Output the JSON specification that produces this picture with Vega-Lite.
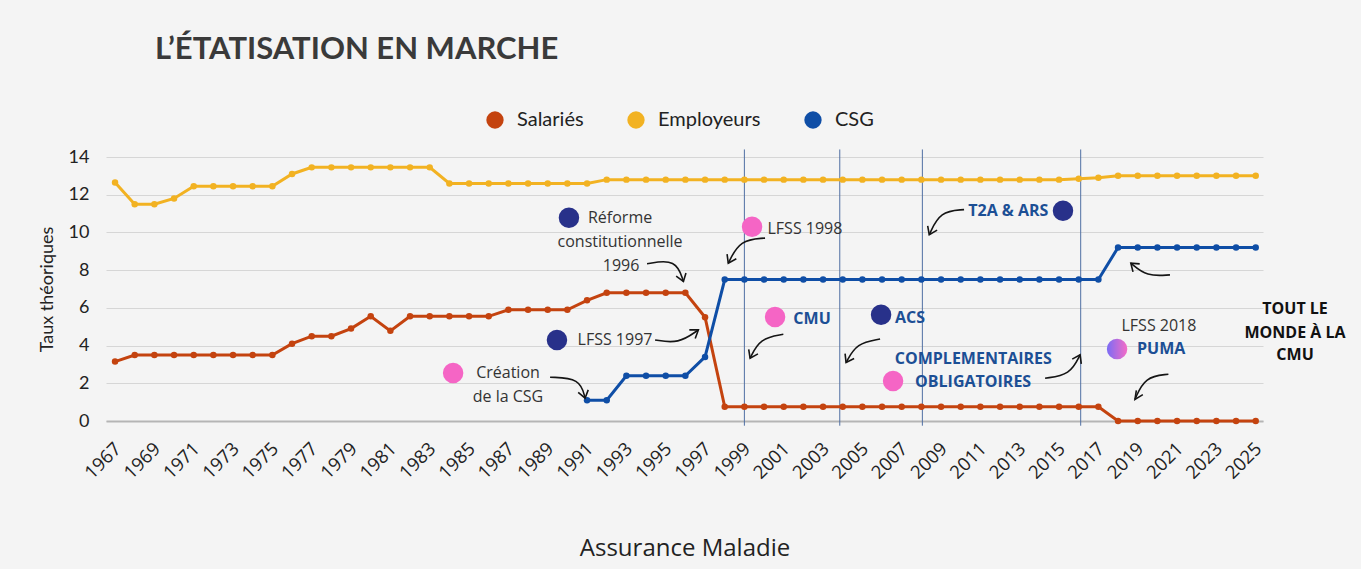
{
  "$schema": "https://vega.github.io/schema/vega-lite/v6.json",
  "width": 1157,
  "height": 264,
  "autosize": {"type": "none"},
  "padding": {"left": 106, "top": 157, "right": 98, "bottom": 148},
  "background": "#f4f4f4",
  "title": {"text": "L’ÉTATISATION EN MARCHE", "anchor": "start", "frame": "group", "dx": 49, "offset": 44, "font": "Lato", "fontSize": 31, "fontWeight": "bold", "color": "#3a3a3a"},
  "config": {
    "view": {"stroke": null},
    "font": "Open Sans",
    "axisX": {
      "labelAngle": -45,
      "labelFont": "Open Sans",
      "labelFontSize": 18.5,
      "labelColor": "#222222",
      "labelPadding": 18,
      "labelOffset": -4,
      "labelOverlap": false,
      "ticks": false,
      "grid": false,
      "domainColor": "#b5b5b5",
      "domainWidth": 2,
      "titleFont": "Open Sans",
      "titleFontSize": 24,
      "titleFontWeight": "normal",
      "titleColor": "#222222",
      "titlePadding": 54,
      "tickCount": 100
    },
    "axisY": {
      "labelFont": "Lato",
      "labelFontSize": 18,
      "labelColor": "#222222",
      "labelPadding": 17,
      "labelOverlap": false,
      "ticks": false,
      "domain": false,
      "grid": true,
      "gridColor": "#d6d6d6",
      "gridWidth": 1,
      "titleFont": "Lato",
      "titleFontSize": 18,
      "titleFontWeight": "normal",
      "titleColor": "#222222",
      "titlePadding": 12,
      "tickCount": 100
    }
  },
  "datasets": {
    "series": [
      {"annee": 1967, "Salariés": 3.15, "Employeurs": 12.65},
      {"annee": 1968, "Salariés": 3.5, "Employeurs": 11.5},
      {"annee": 1969, "Salariés": 3.5, "Employeurs": 11.5},
      {"annee": 1970, "Salariés": 3.5, "Employeurs": 11.8},
      {"annee": 1971, "Salariés": 3.5, "Employeurs": 12.45},
      {"annee": 1972, "Salariés": 3.5, "Employeurs": 12.45},
      {"annee": 1973, "Salariés": 3.5, "Employeurs": 12.45},
      {"annee": 1974, "Salariés": 3.5, "Employeurs": 12.45},
      {"annee": 1975, "Salariés": 3.5, "Employeurs": 12.45},
      {"annee": 1976, "Salariés": 4.1, "Employeurs": 13.1},
      {"annee": 1977, "Salariés": 4.5, "Employeurs": 13.45},
      {"annee": 1978, "Salariés": 4.5, "Employeurs": 13.45},
      {"annee": 1979, "Salariés": 4.9, "Employeurs": 13.45},
      {"annee": 1980, "Salariés": 5.55, "Employeurs": 13.45},
      {"annee": 1981, "Salariés": 4.78, "Employeurs": 13.45},
      {"annee": 1982, "Salariés": 5.55, "Employeurs": 13.45},
      {"annee": 1983, "Salariés": 5.55, "Employeurs": 13.45},
      {"annee": 1984, "Salariés": 5.55, "Employeurs": 12.6},
      {"annee": 1985, "Salariés": 5.55, "Employeurs": 12.6},
      {"annee": 1986, "Salariés": 5.55, "Employeurs": 12.6},
      {"annee": 1987, "Salariés": 5.9, "Employeurs": 12.6},
      {"annee": 1988, "Salariés": 5.9, "Employeurs": 12.6},
      {"annee": 1989, "Salariés": 5.9, "Employeurs": 12.6},
      {"annee": 1990, "Salariés": 5.9, "Employeurs": 12.6},
      {"annee": 1991, "Salariés": 6.4, "Employeurs": 12.6, "CSG": 1.1},
      {"annee": 1992, "Salariés": 6.8, "Employeurs": 12.8, "CSG": 1.1},
      {"annee": 1993, "Salariés": 6.8, "Employeurs": 12.8, "CSG": 2.4},
      {"annee": 1994, "Salariés": 6.8, "Employeurs": 12.8, "CSG": 2.4},
      {"annee": 1995, "Salariés": 6.8, "Employeurs": 12.8, "CSG": 2.4},
      {"annee": 1996, "Salariés": 6.8, "Employeurs": 12.8, "CSG": 2.4},
      {"annee": 1997, "Salariés": 5.5, "Employeurs": 12.8, "CSG": 3.4},
      {"annee": 1998, "Salariés": 0.75, "Employeurs": 12.8, "CSG": 7.5},
      {"annee": 1999, "Salariés": 0.75, "Employeurs": 12.8, "CSG": 7.5},
      {"annee": 2000, "Salariés": 0.75, "Employeurs": 12.8, "CSG": 7.5},
      {"annee": 2001, "Salariés": 0.75, "Employeurs": 12.8, "CSG": 7.5},
      {"annee": 2002, "Salariés": 0.75, "Employeurs": 12.8, "CSG": 7.5},
      {"annee": 2003, "Salariés": 0.75, "Employeurs": 12.8, "CSG": 7.5},
      {"annee": 2004, "Salariés": 0.75, "Employeurs": 12.8, "CSG": 7.5},
      {"annee": 2005, "Salariés": 0.75, "Employeurs": 12.8, "CSG": 7.5},
      {"annee": 2006, "Salariés": 0.75, "Employeurs": 12.8, "CSG": 7.5},
      {"annee": 2007, "Salariés": 0.75, "Employeurs": 12.8, "CSG": 7.5},
      {"annee": 2008, "Salariés": 0.75, "Employeurs": 12.8, "CSG": 7.5},
      {"annee": 2009, "Salariés": 0.75, "Employeurs": 12.8, "CSG": 7.5},
      {"annee": 2010, "Salariés": 0.75, "Employeurs": 12.8, "CSG": 7.5},
      {"annee": 2011, "Salariés": 0.75, "Employeurs": 12.8, "CSG": 7.5},
      {"annee": 2012, "Salariés": 0.75, "Employeurs": 12.8, "CSG": 7.5},
      {"annee": 2013, "Salariés": 0.75, "Employeurs": 12.8, "CSG": 7.5},
      {"annee": 2014, "Salariés": 0.75, "Employeurs": 12.8, "CSG": 7.5},
      {"annee": 2015, "Salariés": 0.75, "Employeurs": 12.8, "CSG": 7.5},
      {"annee": 2016, "Salariés": 0.75, "Employeurs": 12.85, "CSG": 7.5},
      {"annee": 2017, "Salariés": 0.75, "Employeurs": 12.9, "CSG": 7.5},
      {"annee": 2018, "Salariés": 0, "Employeurs": 13.0, "CSG": 9.2},
      {"annee": 2019, "Salariés": 0, "Employeurs": 13.0, "CSG": 9.2},
      {"annee": 2020, "Salariés": 0, "Employeurs": 13.0, "CSG": 9.2},
      {"annee": 2021, "Salariés": 0, "Employeurs": 13.0, "CSG": 9.2},
      {"annee": 2022, "Salariés": 0, "Employeurs": 13.0, "CSG": 9.2},
      {"annee": 2023, "Salariés": 0, "Employeurs": 13.0, "CSG": 9.2},
      {"annee": 2024, "Salariés": 0, "Employeurs": 13.0, "CSG": 9.2},
      {"annee": 2025, "Salariés": 0, "Employeurs": 13.0, "CSG": 9.2}
    ],
    "reperes": [
      {"annee": 1999, "valeur": -0.25, "valeur2": 14.4},
      {"annee": 2003.85, "valeur": -0.25, "valeur2": 14.4},
      {"annee": 2008.05, "valeur": -0.25, "valeur2": 14.4},
      {"annee": 2016.1, "valeur": -0.25, "valeur2": 14.4}
    ],
    "courbes": [
      {"fleche": "a1", "ordre": 0, "annee": 1994.05, "valeur": 8.34},
      {"fleche": "a1", "ordre": 1, "annee": 1995.53, "valeur": 8.6},
      {"fleche": "a1", "ordre": 2, "annee": 1995.9, "valeur": 7.4},
      {"fleche": "a2", "ordre": 0, "annee": 1994.46, "valeur": 4.3},
      {"fleche": "a2", "ordre": 1, "annee": 1995.64, "valeur": 4.09},
      {"fleche": "a2", "ordre": 2, "annee": 1996.66, "valeur": 4.83},
      {"fleche": "a3", "ordre": 0, "annee": 1989.12, "valeur": 2.32},
      {"fleche": "a3", "ordre": 1, "annee": 1990.64, "valeur": 2.27},
      {"fleche": "a3", "ordre": 2, "annee": 1990.9, "valeur": 1.21},
      {"fleche": "a4", "ordre": 0, "annee": 2000.05, "valeur": 9.7},
      {"fleche": "a4", "ordre": 1, "annee": 1998.78, "valeur": 9.61},
      {"fleche": "a4", "ordre": 2, "annee": 1998.18, "valeur": 8.37},
      {"fleche": "a5", "ordre": 0, "annee": 2000.98, "valeur": 4.6},
      {"fleche": "a5", "ordre": 1, "annee": 1999.8, "valeur": 4.39},
      {"fleche": "a5", "ordre": 2, "annee": 1999.29, "valeur": 3.33},
      {"fleche": "a6", "ordre": 0, "annee": 2005.9, "valeur": 4.35},
      {"fleche": "a6", "ordre": 1, "annee": 2004.71, "valeur": 4.13},
      {"fleche": "a6", "ordre": 2, "annee": 2004.17, "valeur": 3.1},
      {"fleche": "a7", "ordre": 0, "annee": 2010.17, "valeur": 11.21},
      {"fleche": "a7", "ordre": 1, "annee": 2008.95, "valeur": 11.12},
      {"fleche": "a7", "ordre": 2, "annee": 2008.4, "valeur": 9.88},
      {"fleche": "a8", "ordre": 0, "annee": 2014.29, "valeur": 2.27},
      {"fleche": "a8", "ordre": 1, "annee": 2015.56, "valeur": 2.44},
      {"fleche": "a8", "ordre": 2, "annee": 2016.07, "valeur": 3.51},
      {"fleche": "a9", "ordre": 0, "annee": 2020.64, "valeur": 7.75},
      {"fleche": "a9", "ordre": 1, "annee": 2019.46, "valeur": 7.66},
      {"fleche": "a9", "ordre": 2, "annee": 2018.65, "valeur": 8.37},
      {"fleche": "a10", "ordre": 0, "annee": 2020.56, "valeur": 2.48},
      {"fleche": "a10", "ordre": 1, "annee": 2019.37, "valeur": 2.35},
      {"fleche": "a10", "ordre": 2, "annee": 2018.86, "valeur": 1.15}
    ],
    "pointes": [
      {"fleche": "a1", "ordre": 0, "annee": 1996.03, "valeur": 7.85},
      {"fleche": "a1", "ordre": 1, "annee": 1995.9, "valeur": 7.4},
      {"fleche": "a1", "ordre": 2, "annee": 1995.53, "valeur": 7.68},
      {"fleche": "a2", "ordre": 0, "annee": 1996.2, "valeur": 4.83},
      {"fleche": "a2", "ordre": 1, "annee": 1996.66, "valeur": 4.83},
      {"fleche": "a2", "ordre": 2, "annee": 1996.5, "valeur": 4.38},
      {"fleche": "a3", "ordre": 0, "annee": 1991.06, "valeur": 1.65},
      {"fleche": "a3", "ordre": 1, "annee": 1990.9, "valeur": 1.21},
      {"fleche": "a3", "ordre": 2, "annee": 1990.55, "valeur": 1.52},
      {"fleche": "a4", "ordre": 0, "annee": 1998.59, "valeur": 8.6},
      {"fleche": "a4", "ordre": 1, "annee": 1998.18, "valeur": 8.37},
      {"fleche": "a4", "ordre": 2, "annee": 1998.12, "valeur": 8.85},
      {"fleche": "a5", "ordre": 0, "annee": 1999.69, "valeur": 3.56},
      {"fleche": "a5", "ordre": 1, "annee": 1999.29, "valeur": 3.33},
      {"fleche": "a5", "ordre": 2, "annee": 1999.22, "valeur": 3.8},
      {"fleche": "a6", "ordre": 0, "annee": 2004.58, "valeur": 3.31},
      {"fleche": "a6", "ordre": 1, "annee": 2004.17, "valeur": 3.1},
      {"fleche": "a6", "ordre": 2, "annee": 2004.12, "valeur": 3.57},
      {"fleche": "a7", "ordre": 0, "annee": 2008.8, "valeur": 10.12},
      {"fleche": "a7", "ordre": 1, "annee": 2008.4, "valeur": 9.88},
      {"fleche": "a7", "ordre": 2, "annee": 2008.32, "valeur": 10.35},
      {"fleche": "a8", "ordre": 0, "annee": 2015.67, "valeur": 3.28},
      {"fleche": "a8", "ordre": 1, "annee": 2016.07, "valeur": 3.51},
      {"fleche": "a8", "ordre": 2, "annee": 2016.13, "valeur": 3.03},
      {"fleche": "a9", "ordre": 0, "annee": 2018.76, "valeur": 7.91},
      {"fleche": "a9", "ordre": 1, "annee": 2018.65, "valeur": 8.37},
      {"fleche": "a9", "ordre": 2, "annee": 2019.1, "valeur": 8.33},
      {"fleche": "a10", "ordre": 0, "annee": 2019.26, "valeur": 1.4},
      {"fleche": "a10", "ordre": 1, "annee": 2018.86, "valeur": 1.15},
      {"fleche": "a10", "ordre": 2, "annee": 2018.93, "valeur": 1.62}
    ],
    "pastillesBleues": [
      {"annee": 1990.08, "valeur": 10.78},
      {"annee": 1989.47, "valeur": 4.3},
      {"annee": 2005.95, "valeur": 5.63},
      {"annee": 2015.2, "valeur": 11.15}
    ],
    "pastillesRoses": [
      {"annee": 1984.19, "valeur": 2.55},
      {"annee": 1999.39, "valeur": 10.3},
      {"annee": 2000.56, "valeur": 5.52},
      {"annee": 2006.56, "valeur": 2.12}
    ],
    "pastilleDegrade": [
      {"annee": 2017.95, "valeur": 3.82}
    ],
    "textesSimples": [
      {"annee": 1992.68, "valeur": 10.78, "texte": "Réforme"},
      {"annee": 1992.68, "valeur": 9.51, "texte": "constitutionnelle"},
      {"annee": 1992.73, "valeur": 8.23, "texte": "1996"},
      {"annee": 1992.42, "valeur": 4.3, "texte": "LFSS 1997"},
      {"annee": 1986.98, "valeur": 2.55, "texte": "Création"},
      {"annee": 1986.98, "valeur": 1.27, "texte": "de la CSG"},
      {"annee": 2002.08, "valeur": 10.2, "texte": "LFSS 1998"},
      {"annee": 2020.08, "valeur": 5.05, "texte": "LFSS 2018"}
    ],
    "textesBleus": [
      {"annee": 2002.44, "valeur": 5.42, "texte": "CMU"},
      {"annee": 2007.42, "valeur": 5.47, "texte": "ACS"},
      {"annee": 2010.64, "valeur": 3.29, "texte": "COMPLEMENTAIRES"},
      {"annee": 2010.63, "valeur": 2.07, "texte": "OBLIGATOIRES"},
      {"annee": 2012.42, "valeur": 11.15, "texte": "T2A & ARS"},
      {"annee": 2020.19, "valeur": 3.82, "texte": "PUMA"}
    ],
    "textesNoirs": [
      {"annee": 2027.0, "valeur": 5.95, "texte": "TOUT LE"},
      {"annee": 2027.0, "valeur": 4.67, "texte": "MONDE À LA"},
      {"annee": 2027.0, "valeur": 3.5, "texte": "CMU"}
    ]
  },
  "layer": [
    {
      "data": {"name": "reperes"},
      "mark": {"type": "rule", "color": "#4f6fa3", "strokeWidth": 1},
      "encoding": {
        "x": {
          "field": "annee", "type": "quantitative",
          "scale": {"domain": [1966.54, 2025.37], "nice": false, "zero": false},
          "axis": {
            "title": "Assurance Maladie",
            "values": [1967, 1969, 1971, 1973, 1975, 1977, 1979, 1981, 1983, 1985, 1987, 1989, 1991, 1993, 1995, 1997, 1999, 2001, 2003, 2005, 2007, 2009, 2011, 2013, 2015, 2017, 2019, 2021, 2023, 2025],
            "format": "d",
            "tickCount": 100,
            "labelOverlap": false
          }
        },
        "y": {
          "field": "valeur", "type": "quantitative",
          "scale": {"domain": [0, 14], "nice": false},
          "axis": {
            "title": "Taux théoriques",
            "values": [0, 2, 4, 6, 8, 10, 12, 14],
            "format": "d",
            "tickCount": 100,
            "labelOverlap": false
          }
        },
        "y2": {"field": "valeur2"}
      }
    },
    {
      "data": {"name": "series"},
      "transform": [
        {"fold": ["Salariés", "Employeurs", "CSG"], "as": ["serie", "valeur"]},
        {"filter": "isValid(datum.valeur)"}
      ],
      "encoding": {
        "x": {"field": "annee", "type": "quantitative"},
        "y": {"field": "valeur", "type": "quantitative"},
        "color": {
          "field": "serie", "type": "nominal",
          "scale": {"domain": ["Salariés", "Employeurs", "CSG"], "range": ["#c4430f", "#f2b222", "#0f4ea6"]},
          "legend": {
            "orient": "none", "legendX": 379, "legendY": -47, "direction": "horizontal",
            "title": null, "symbolType": "circle", "symbolSize": 300, "symbolStrokeWidth": 0,
            "labelFont": "Lato", "labelFontSize": 20, "labelColor": "#222222",
            "columnPadding": 42, "labelOffset": 12
          }
        }
      },
      "layer": [
        {"mark": {"type": "line", "strokeWidth": 3}},
        {"mark": {"type": "point", "filled": true, "size": 42, "opacity": 1}}
      ]
    },
    {
      "data": {"name": "courbes"},
      "mark": {"type": "line", "interpolate": "basis", "color": "#151515", "strokeWidth": 1.6},
      "encoding": {
        "x": {"field": "annee", "type": "quantitative"},
        "y": {"field": "valeur", "type": "quantitative"},
        "detail": {"field": "fleche"},
        "order": {"field": "ordre"}
      }
    },
    {
      "data": {"name": "pointes"},
      "mark": {"type": "line", "color": "#151515", "strokeWidth": 1.6},
      "encoding": {
        "x": {"field": "annee", "type": "quantitative"},
        "y": {"field": "valeur", "type": "quantitative"},
        "detail": {"field": "fleche"},
        "order": {"field": "ordre"}
      }
    },
    {
      "data": {"name": "pastillesBleues"},
      "mark": {"type": "point", "filled": true, "size": 420, "color": "#28318a", "opacity": 1},
      "encoding": {
        "x": {"field": "annee", "type": "quantitative"},
        "y": {"field": "valeur", "type": "quantitative"}
      }
    },
    {
      "data": {"name": "pastillesRoses"},
      "mark": {"type": "point", "filled": true, "size": 420, "color": "#f565c5", "opacity": 1},
      "encoding": {
        "x": {"field": "annee", "type": "quantitative"},
        "y": {"field": "valeur", "type": "quantitative"}
      }
    },
    {
      "data": {"name": "pastilleDegrade"},
      "mark": {"type": "point", "filled": true, "size": 420, "opacity": 1,
        "color": {"gradient": "linear", "x1": 0, "y1": 0, "x2": 1, "y2": 0, "stops": [{"offset": 0, "color": "#7a6cf5"}, {"offset": 1, "color": "#f56cc6"}]}},
      "encoding": {
        "x": {"field": "annee", "type": "quantitative"},
        "y": {"field": "valeur", "type": "quantitative"}
      }
    },
    {
      "data": {"name": "textesSimples"},
      "mark": {"type": "text", "font": "Open Sans", "fontSize": 16, "color": "#333333", "align": "center", "baseline": "middle"},
      "encoding": {
        "x": {"field": "annee", "type": "quantitative"},
        "y": {"field": "valeur", "type": "quantitative"},
        "text": {"field": "texte"}
      }
    },
    {
      "data": {"name": "textesBleus"},
      "mark": {"type": "text", "font": "Open Sans", "fontSize": 16, "fontWeight": "bold", "color": "#1c4f95", "align": "center", "baseline": "middle"},
      "encoding": {
        "x": {"field": "annee", "type": "quantitative"},
        "y": {"field": "valeur", "type": "quantitative"},
        "text": {"field": "texte"}
      }
    },
    {
      "data": {"name": "textesNoirs"},
      "mark": {"type": "text", "font": "Open Sans", "fontSize": 16, "fontWeight": "bold", "color": "#111111", "align": "center", "baseline": "middle"},
      "encoding": {
        "x": {"field": "annee", "type": "quantitative"},
        "y": {"field": "valeur", "type": "quantitative"},
        "text": {"field": "texte"}
      }
    }
  ]
}
